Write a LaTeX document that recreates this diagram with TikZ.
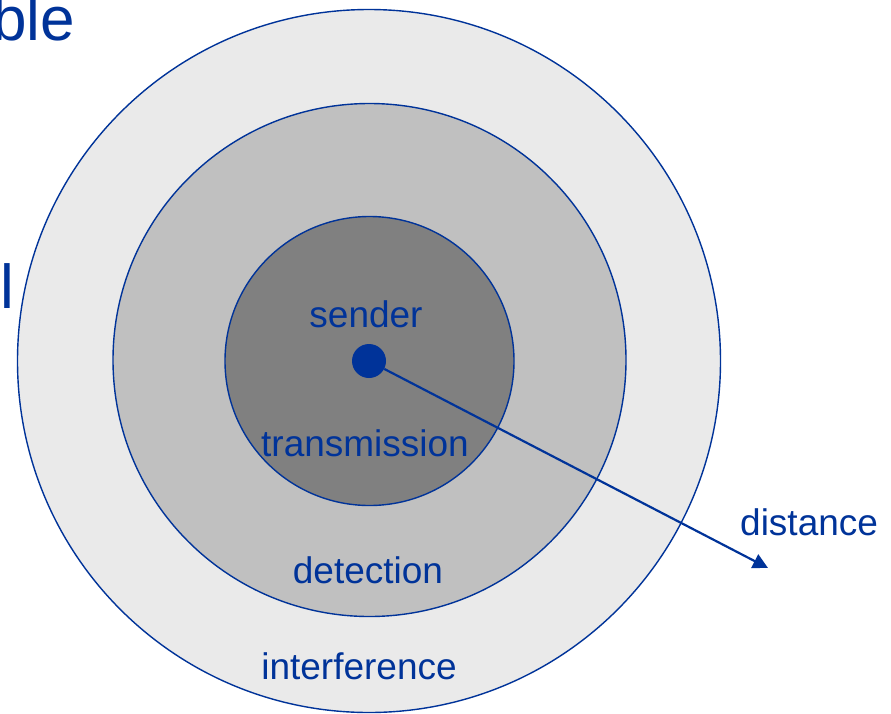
\documentclass[tikz,border=0pt]{standalone}
\usepackage{fontspec}
\setmainfont{Liberation Sans}
\usetikzlibrary{arrows.meta}
\definecolor{dblue}{RGB}{0,51,153}
\definecolor{ringA}{RGB}{234,234,234}
\definecolor{ringB}{RGB}{192,192,192}
\definecolor{ringC}{RGB}{128,128,128}
\begin{document}
\begin{tikzpicture}[x=1pt,y=-1pt,
  zone/.style={circle,draw=dblue,line width=1.4pt,inner sep=0pt},
  lbl/.style={text=dblue,font=\fontsize{37}{40}\selectfont,anchor=base,inner sep=0pt},
  big/.style={text=dblue,font=\fontsize{62}{66}\selectfont,inner sep=0pt}]
\useasboundingbox (0,0) rectangle (891,713);
\clip (0,0) rectangle (891,713);
\fill[white] (0,0) rectangle (891,713);
\node[big,anchor=base east] (title) at (75,40) {ble};
\node[big,anchor=base east] (body) at (14,308) {l};
\node[zone,fill=ringA,minimum size=703pt] (interf) at (369,361) {};
\node[zone,fill=ringB,minimum size=513pt] (detect) at (369.5,360) {};
\node[zone,fill=ringC,minimum size=289pt] (trans) at (369.5,361) {};
\node[circle,fill=dblue,minimum size=34pt,inner sep=0pt] (dot) at (369,361) {};
\coordinate (tip) at (768,568);
\draw[dblue,line width=2.2pt,-{Triangle[length=15pt,width=15pt]}] (dot) -- (tip);
\node[lbl] (sender) at (366,327) {sender};
\node[lbl] (transmission) at (365,456) {transmission};
\node[lbl] (detection) at (368,583) {detection};
\node[lbl] (interference) at (359,679) {interference};
\node[lbl,anchor=base west] (distance) at (740,535) {distance};
\end{tikzpicture}
\end{document}
